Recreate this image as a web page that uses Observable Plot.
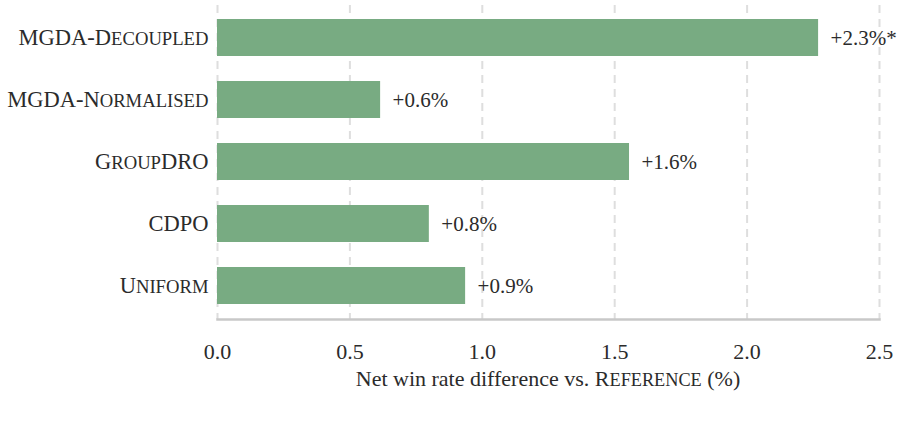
<!DOCTYPE html>
<html>
<head>
<meta charset="utf-8">
<script src="https://cdn.jsdelivr.net/npm/d3@7"></script>
<script src="https://cdn.jsdelivr.net/npm/@observablehq/plot@0.6"></script>
<style>
  html, body { margin: 0; padding: 0; background: #fff; }
  #chart svg { font-family: "Liberation Serif", "DejaVu Serif", serif; }
</style>
</head>
<body>
<div id="chart"></div>
<script>
// Methods and their net win rate difference vs. the reference model (%)
const methods = ["MGDA-Decoupled", "MGDA-Normalised", "GroupDRO", "CDPO", "Uniform"];
const netWinRate = [2.27, 0.616, 1.556, 0.80, 0.937];
const significant = [true, false, false, false, false];
const xTicks = [0, 0.5, 1.0, 1.5, 2.0, 2.5];
const xTitle = ["Net win rate difference vs. ", "Reference", " (%)"];

const data = methods.map((m, i) => ({method: m, value: netWinRate[i], sig: significant[i]}));
const fmt = d => `+${d.value.toFixed(1)}%${d.sig ? "*" : ""}`;

const ink = "#2b2b2b";

const chart = Plot.plot({
  width: 903,
  height: 400,
  marginLeft: 217,
  marginRight: 24,
  marginTop: 5,
  marginBottom: 81,
  style: {fontFamily: "Liberation Serif, serif", color: ink, background: "#fff"},
  x: {domain: [0, 2.5], label: null},
  y: {domain: methods, padding: 0.4, paddingOuter: 0.21, label: null},
  marks: [
    Plot.gridX(xTicks, {stroke: "#dedede", strokeOpacity: 1, strokeWidth: 2, strokeDasharray: "8,6"}),
    Plot.frame({anchor: "bottom", stroke: "#c8c8c8", strokeWidth: 2.5}),
    Plot.barX(data, {x: "value", y: "method", fill: "#78ab82"}),
    Plot.text(data, {x: "value", y: "method", text: fmt, textAnchor: "start", dx: 12, fontSize: 21, fill: ink}),
    Plot.axisY({tickSize: 0, tickPadding: 9, fontSize: 22.5, className: "ylab"}),
    Plot.axisX({ticks: xTicks, tickFormat: d3.format(".1f"), tickSize: 0, tickPadding: 24, fontSize: 22, label: null})
  ]
});

document.getElementById("chart").appendChild(chart);

// Typeset a word in small caps: capitals at full size, lower case as reduced capitals
function smallCaps(sel, str) {
  const runs = str.match(/[a-z]+|[^a-z]+/g) || [];
  for (const r of runs) {
    const lower = /^[a-z]/.test(r);
    sel.append("tspan")
      .attr("font-size", lower ? "0.83em" : null)
      .text(lower ? r.toUpperCase() : r);
  }
}

// Method names in small caps
d3.select(chart).selectAll(".ylab text").each(function() {
  const t = d3.select(this);
  const s = t.text();
  t.text(null);
  smallCaps(t, s);
});

// Axis title, with the reference model name in small caps
const title = d3.select(chart).append("text")
  .attr("x", (217 + 879) / 2)
  .attr("y", 386)
  .attr("text-anchor", "middle")
  .attr("font-size", 22)
  .attr("fill", ink);
title.append("tspan").text(xTitle[0]);
smallCaps(title, xTitle[1]);
title.append("tspan").text(xTitle[2]);
</script>
</body>
</html>
